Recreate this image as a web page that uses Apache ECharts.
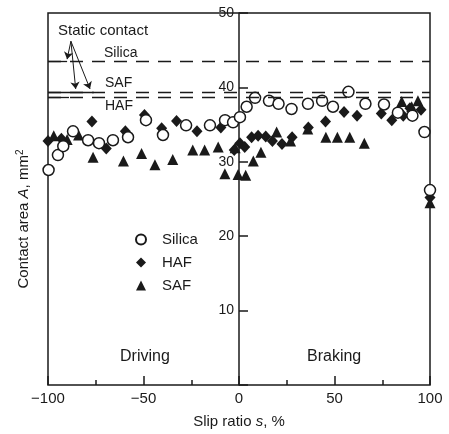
<!DOCTYPE html>
<html>
<head>
<meta charset="utf-8">
<script src="https://cdn.jsdelivr.net/npm/echarts@6/dist/echarts.min.js"></script>
<style>
  html, body { margin: 0; padding: 0; background: #fff; }
  #main { width: 449px; height: 434px; }
</style>
</head>
<body>
<div id="main"></div>
<script>
var myChart = echarts.init(document.getElementById('main'));

// slip ratio (%), contact area (mm2)
var silicaPts = [
    [-99.7, 28.9], [-94.8, 30.9], [-92, 32.1], [-86.9, 34.1], [-79, 32.9], [-73.3, 32.5],
    [-66, 32.9], [-58.1, 33.3], [-48.7, 35.6], [-39.8, 33.6], [-27.7, 34.9], [-15.2, 34.9],
    [-7.3, 35.6], [-3.1, 35.3], [0.5, 36.0], [4, 37.4], [8.4, 38.6], [15.7, 38.2],
    [20.7, 37.8], [27.5, 37.1], [36.1, 37.8], [43.5, 38.2], [49.2, 37.4], [57.3, 39.4],
    [66.2, 37.8], [75.9, 37.7], [83.2, 36.6], [90.8, 36.2], [97.1, 34.0], [100, 26.2]
];
var hafPts = [
    [-100, 32.8], [-93, 33.1], [-77, 35.4], [-69.5, 31.8], [-59.5, 34.1], [-49.5, 36.3],
    [-40.5, 34.5], [-32.7, 35.5], [-22, 34.1], [-9.5, 34.6], [-2.5, 31.6], [0.5, 32.5],
    [3, 32.0], [6.6, 33.3], [10, 33.5], [14, 33.4], [17.5, 32.8], [22.5, 32.4],
    [27.8, 33.3], [36.3, 34.6], [45.3, 35.4], [55, 36.7], [61.8, 36.2], [74.5, 36.5],
    [80, 35.6], [86, 36.2], [89.5, 37.2], [95.3, 37.0], [100, 25.2]
];
var safPts = [
    [-97, 33.5], [-90, 33.0], [-84, 33.6], [-76.4, 30.6], [-60.5, 30.1], [-51, 31.1],
    [-44, 29.6], [-34.7, 30.3], [-24.2, 31.6], [-18, 31.6], [-10.9, 32.0], [-7.4, 28.4],
    [-2, 31.9], [-0.5, 28.3], [3.5, 28.2], [7.5, 30.1], [11.5, 31.3], [19.7, 34.0],
    [27, 32.8], [36, 34.4], [45.5, 33.3], [51.5, 33.3], [58, 33.3], [65.6, 32.5],
    [85.2, 38.1], [90.4, 37.4], [93.7, 38.2], [100, 24.5]
];

// static contact levels
var staticNames = ['Silica', 'SAF', 'HAF'];
var staticLevels = [43.5, 39.4, 38.7];
var solidEnds = [-90, -76, -89];

var font = 'Liberation Sans';
var ink = '#1a1a1a';

var staticLines = [];
for (var i = 0; i < staticLevels.length; i++) {
    staticLines.push({ yAxis: staticLevels[i], lineStyle: { type: [13, 9] } });
    staticLines.push([{ coord: [-100, staticLevels[i]] }, { coord: [solidEnds[i], staticLevels[i]], lineStyle: { type: 'solid' } }]);
}
var arrows = [
    [{ coord: [-88, 46.2], symbol: 'none' }, { coord: [-90, 43.8] }],
    [{ coord: [-88, 46.2], symbol: 'none' }, { coord: [-85.5, 39.8] }],
    [{ coord: [-88, 46.2], symbol: 'none' }, { coord: [-78, 39.8] }]
];

option = {
    animation: false,
    backgroundColor: '#fff',
    grid: {
        left: 48, right: 19, top: 13, bottom: 49,
        show: true, borderColor: ink, borderWidth: 1.5
    },
    legend: {
        data: ['Silica', 'HAF', 'SAF'],
        orient: 'vertical',
        left: 130, top: 227,
        itemWidth: 10, itemHeight: 10, itemGap: 8,
        textStyle: { fontFamily: font, fontSize: 15, color: ink, padding: [0, 0, 0, 11] }
    },
    xAxis: {
        type: 'value',
        min: -100, max: 100, interval: 50,
        name: '{n|Slip ratio }{i|s}{n|, %}',
        nameLocation: 'middle', nameGap: 29,
        nameTextStyle: {
            rich: {
                n: { fontFamily: font, fontSize: 15, color: ink },
                i: { fontFamily: font, fontSize: 15, color: ink, fontStyle: 'italic' }
            }
        },
        axisLine: { show: false },
        axisTick: { inside: true, length: 9, lineStyle: { color: ink, width: 1.5 } },
        minorTick: { show: true, splitNumber: 2, length: 5, lineStyle: { color: ink, width: 1.5 } },
        splitLine: { show: false },
        axisLabel: {
            margin: 6, fontFamily: font, fontSize: 15, color: ink,
            formatter: function (v) { return v < 0 ? '\u2212' + (-v) : '' + v; }
        }
    },
    yAxis: [
        {
            type: 'value',
            min: 0, max: 50, interval: 10,
            position: 'left', offset: -191,
            axisLine: { show: true, onZero: false, lineStyle: { color: ink, width: 1.5 } },
            axisTick: { inside: true, length: 9, lineStyle: { color: ink, width: 1.5 } },
            splitLine: { show: false },
            axisLabel: {
                margin: 5, fontFamily: font, fontSize: 14, color: ink,
                formatter: function (v) { return v === 0 ? '' : '' + v; }
            }
        },
        {
            type: 'value',
            min: 0, max: 50, interval: 10,
            position: 'left',
            name: '{n|Contact area }{i|A}{n|, mm}{s|2}',
            nameLocation: 'middle', nameGap: 16, nameRotate: 90,
            nameTextStyle: {
                padding: [0, 40, 0, 0],
                rich: {
                    n: { fontFamily: font, fontSize: 15, color: ink },
                    i: { fontFamily: font, fontSize: 15, color: ink, fontStyle: 'italic' },
                    s: { fontFamily: font, fontSize: 10, color: ink, verticalAlign: 'top', padding: [0, 0, 7, 0] }
                }
            },
            axisLine: { show: false },
            axisTick: { show: false },
            axisLabel: { show: false },
            splitLine: { show: false }
        }
    ],
    graphic: [
        { type: 'text', left: 58, top: 23, style: { text: 'Static contact', font: '15px "Liberation Sans"', fill: ink } },
        { type: 'text', left: 104, top: 46, style: { text: 'Silica', font: '14px "Liberation Sans"', fill: ink } },
        { type: 'text', left: 105, top: 76, style: { text: 'SAF', font: '14px "Liberation Sans"', fill: ink } },
        { type: 'text', left: 105, top: 99, style: { text: 'HAF', font: '14px "Liberation Sans"', fill: ink } },
        { type: 'text', left: 120, top: 349, style: { text: 'Driving', font: '16px "Liberation Sans"', fill: ink } },
        { type: 'text', left: 307, top: 349, style: { text: 'Braking', font: '16px "Liberation Sans"', fill: ink } }
    ],
    series: [
        {
            name: 'Silica',
            type: 'scatter',
            data: silicaPts,
            symbol: 'circle',
            symbolSize: 11,
            itemStyle: { color: '#fff', borderColor: ink, borderWidth: 1.5, opacity: 1 },
            markLine: {
                silent: true,
                symbol: 'none',
                label: { show: false },
                lineStyle: { color: ink, width: 1.3 },
                data: staticLines
            },
            z: 3
        },
        {
            name: 'HAF',
            type: 'scatter',
            data: hafPts,
            symbol: 'diamond',
            symbolSize: [11, 12],
            itemStyle: { color: ink, opacity: 1 },
            markLine: {
                silent: true,
                symbol: ['none', 'arrow'],
                symbolSize: 7,
                label: { show: false },
                lineStyle: { color: ink, width: 1, type: 'solid' },
                data: arrows
            },
            z: 2
        },
        {
            name: 'SAF',
            type: 'scatter',
            data: safPts,
            symbol: 'triangle',
            symbolSize: [11, 11],
            itemStyle: { color: ink, opacity: 1 },
            z: 2
        }
    ]
};

myChart.setOption(option);
</script>
</body>
</html>
